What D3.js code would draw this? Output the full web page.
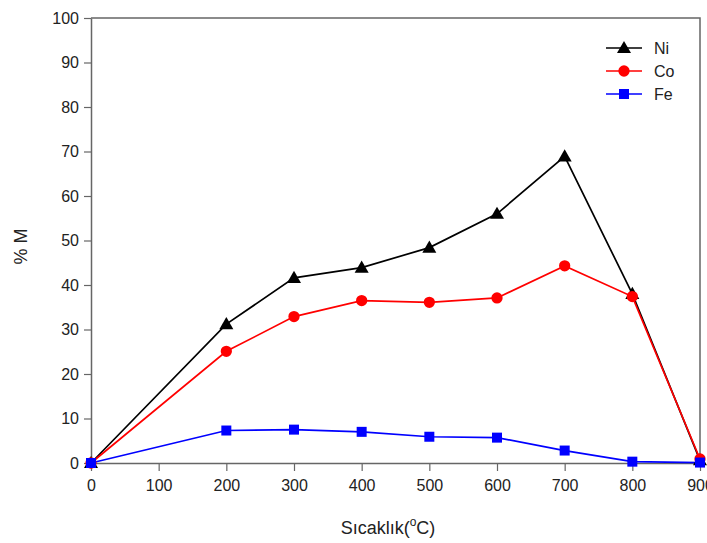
<!DOCTYPE html>
<html>
<head>
<meta charset="utf-8">
<script src="https://cdn.jsdelivr.net/npm/d3@7"></script>
<style>
  body { margin: 0; background: #fff; }
  text { font-family: "Liberation Sans", Arial, sans-serif; }
</style>
</head>
<body>
<div id="chart"></div>
<script>
// values
const temps = [0, 100, 200, 300, 400, 500, 600, 700, 800, 900];
const sampleTemps = [0, 200, 300, 400, 500, 600, 700, 800, 900];
const niValues = [0, 31.2, 41.6, 43.9, 48.4, 56.0, 68.9, 38.0, 0.6];
const coValues = [0, 25.1, 32.9, 36.5, 36.1, 37.1, 44.3, 37.4, 0.9];
const feValues = [0, 7.3, 7.5, 7.0, 5.9, 5.7, 2.8, 0.3, 0.1];
const yTicks = [0, 10, 20, 30, 40, 50, 60, 70, 80, 90, 100];

const series = [
  { name: "Ni", values: niValues, color: "#000000", symbol: d3.symbolTriangle, size: 85 },
  { name: "Co", values: coValues, color: "#ff0000", symbol: d3.symbolCircle, size: 100 },
  { name: "Fe", values: feValues, color: "#0000ff", symbol: d3.symbolSquare, size: 100 }
];

const W = 707, H = 543;
const margin = { top: 18, right: 7, bottom: 80, left: 91 };

const svg = d3.select("#chart").append("svg")
  .attr("width", W)
  .attr("height", H);

const x = d3.scaleLinear()
  .domain([0, 900])
  .range([margin.left, W - margin.right]);

const y = d3.scaleLinear()
  .domain([0, 100])
  .range([H - margin.bottom, margin.top]);

const axisColor = "#666";

// frame (top + right)
svg.append("path")
  .attr("d", `M${x(0)},${y(100)}H${x(900)}V${y(0)}`)
  .attr("fill", "none")
  .attr("stroke", axisColor)
  .attr("stroke-width", 1.5);

const xAxis = svg.append("g")
  .attr("transform", `translate(0,${y(0)})`)
  .call(d3.axisBottom(x).tickValues(temps).tickSize(8).tickPadding(9).tickSizeOuter(0));

const yAxis = svg.append("g")
  .attr("transform", `translate(${x(0)},0)`)
  .call(d3.axisLeft(y).tickValues(yTicks).tickSize(7).tickPadding(5).tickSizeOuter(0));

[xAxis, yAxis].forEach(g => {
  g.select(".domain").attr("stroke", axisColor).attr("stroke-width", 1.5);
  g.selectAll(".tick line").attr("stroke", axisColor).attr("stroke-width", 1.2);
  g.selectAll(".tick text")
    .attr("fill", "#222")
    .style("font-size", "16px")
    .style("font-family", "'Liberation Sans', Arial, sans-serif");
});

// axis titles
const xt = svg.append("text")
  .attr("x", 388)
  .attr("y", 534)
  .attr("text-anchor", "middle")
  .attr("fill", "#222")
  .style("font-size", "18px");
xt.append("tspan").text("Sıcaklık(");
xt.append("tspan").attr("dy", -8).style("font-size", "12px").text("o");
xt.append("tspan").attr("dy", 8).text("C)");

svg.append("text")
  .attr("transform", `translate(27,${y(50) + 6}) rotate(-90)`)
  .attr("text-anchor", "middle")
  .attr("fill", "#222")
  .style("font-size", "18px")
  .text("% M");

const line = d3.line()
  .x((d, i) => x(sampleTemps[i]))
  .y(d => y(d));

series.forEach(s => {
  svg.append("path")
    .datum(s.values)
    .attr("fill", "none")
    .attr("stroke", s.color)
    .attr("stroke-width", 1.7)
    .attr("d", line);
});

series.forEach(s => {
  svg.selectAll(null)
    .data(s.values)
    .enter().append("path")
    .attr("transform", (d, i) => `translate(${x(sampleTemps[i])},${y(d) + (s.symbol === d3.symbolTriangle ? 1 : 0)})`)
    .attr("d", d3.symbol().type(s.symbol).size(s.size))
    .attr("fill", s.color);
});

// legend
const legend = svg.append("g").attr("transform", "translate(606,48)");
series.forEach((s, i) => {
  const g = legend.append("g").attr("transform", `translate(0,${i * 23})`);
  g.append("line")
    .attr("x1", 0).attr("x2", 36)
    .attr("stroke", s.color).attr("stroke-width", 1.7);
  g.append("path")
    .attr("transform", `translate(18,${s.symbol === d3.symbolTriangle ? 1 : 0})`)
    .attr("d", d3.symbol().type(s.symbol).size(s.size))
    .attr("fill", s.color);
  g.append("text")
    .attr("x", 48)
    .attr("y", 6)
    .attr("fill", "#222")
    .style("font-size", "16px")
    .text(s.name);
});
</script>
</body>
</html>
